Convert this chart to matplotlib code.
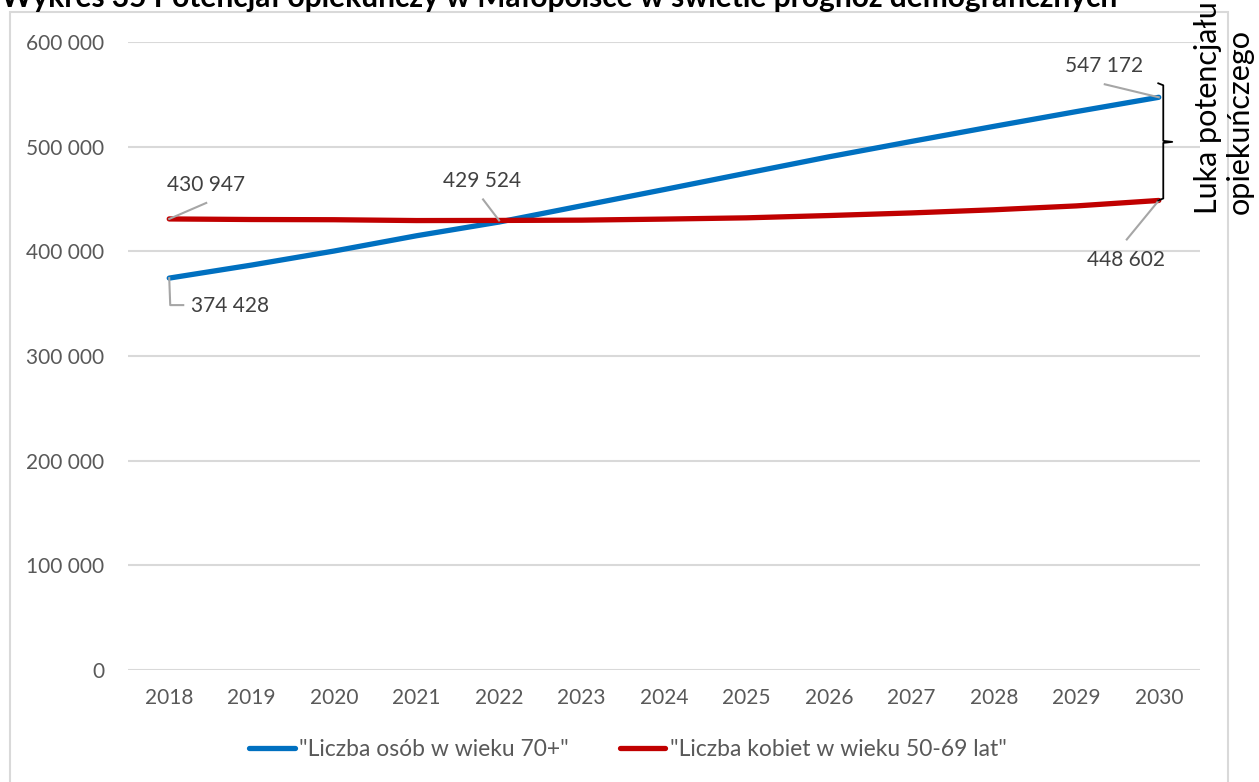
import matplotlib
matplotlib.use("Agg")
import matplotlib.pyplot as plt
from matplotlib.lines import Line2D
from matplotlib.patches import Rectangle
from matplotlib.ticker import FuncFormatter

plt.rcParams['font.family'] = ['Lato', 'DejaVu Sans']

# data
years = [2018, 2019, 2020, 2021, 2022, 2023, 2024, 2025, 2026, 2027, 2028, 2029, 2030]
seniors_70 = [374428, 386900, 400300, 414900, 428000, 443500, 459000, 474700, 490300, 505000, 519400, 533500, 547172]
women_50_69 = [430947, 430400, 430200, 429400, 429524, 429800, 430800, 432000, 434200, 436700, 439700, 443400, 448602]
y_ticks = [0, 100000, 200000, 300000, 400000, 500000, 600000]

title = "Wykres 35 Potencjał opiekuńczy w Małopolsce w świetle prognoz demograficznych"
legend_labels = ['"Liczba osób w wieku 70+"', '"Liczba kobiet w wieku 50-69 lat"']
gap_label = "Luka potencjału\nopiekuńczego"

BLUE = "#0070C0"
RED = "#C00000"
GRID = "#D9D9D9"
TICK = "#595959"
LABEL = "#404040"

W, H = 1259, 782
fig = plt.figure(figsize=(W / 100, H / 100), dpi=100)

# outer chart frame (bottom runs off the image)
fig.patches.append(Rectangle((10 / W, -0.05), 1218 / W, 1.05 - 12 / H,
                             transform=fig.transFigure, fill=False,
                             edgecolor=GRID, linewidth=1.5))

ax = fig.add_axes([128 / W, 1 - 670 / H, 1072 / W, 628 / H])
ax.set_xlim(2017.5, 2030.5)
ax.set_ylim(0, 600000)
ax.set_xticks(years)
ax.set_yticks(y_ticks)
ax.yaxis.set_major_formatter(FuncFormatter(lambda v, p: f"{int(v):,}".replace(",", " ")))
ax.grid(axis='y', color=GRID, linewidth=1.5)
ax.set_axisbelow(True)
for s in ax.spines.values():
    s.set_visible(False)
ax.tick_params(length=0, labelsize=15, labelcolor=TICK)
ax.tick_params(axis='y', pad=17)
ax.tick_params(axis='x', pad=13)

ax.plot(years, seniors_70, color=BLUE, linewidth=3.8, solid_capstyle='round', label=legend_labels[0])
ax.plot(years, women_50_69, color=RED, linewidth=3.8, solid_capstyle='round', label=legend_labels[1])

# title is partly cut by the top edge, as in the source image
fig.text(0.001, 1 - 7 / H, title, fontsize=21.5, fontweight='bold', color='black',
         ha='left', va='baseline')

fig.canvas.draw()


def px(x, y):
    return ax.transData.transform((x, y))


def to_fig(pts):
    return [p[0] / W for p in pts], [p[1] / H for p in pts]


def data_label(x, y, text, text_off, leader):
    p = px(x, y)
    pts = [(p[0] + dx, p[1] + dy) for dx, dy in leader]
    xs, ys = to_fig(pts)
    fig.lines.append(Line2D(xs, ys, transform=fig.transFigure, color="#A6A6A6", linewidth=1.5))
    fig.text((p[0] + text_off[0]) / W, (p[1] + text_off[1]) / H, text,
             fontsize=15, color=LABEL, ha='center', va='center')


def fmt(v):
    return f"{v:,}".replace(",", " ")


data_label(years[0], women_50_69[0], fmt(women_50_69[0]), (37, 34), [(0, 0), (37, 16)])
data_label(years[0], seniors_70[0], fmt(seniors_70[0]), (61, -28), [(0, 0), (1, -27), (14, -27)])
data_label(years[4], women_50_69[4], fmt(women_50_69[4]), (-17, 39), [(0, 0), (-16, 21)])
data_label(years[-1], seniors_70[-1], fmt(seniors_70[-1]), (-55, 31), [(0, 0), (-54, 13)])
data_label(years[-1], women_50_69[-1], fmt(women_50_69[-1]), (-33, -60), [(0, 0), (-32, -39)])

# curly bracket marking the gap in 2030
top = px(years[-1], seniors_70[-1])
bot = px(years[-1], women_50_69[-1])
bx = top[0] + 4.5
ytop = top[1] + 14
ybot = bot[1]
ymid = (ytop + ybot) / 2
bracket = [(bx - 5, ytop), (bx, ytop - 2), (bx, ymid + 1), (bx + 9, ymid),
           (bx, ymid - 1), (bx, ybot + 2), (bx - 5, ybot)]
xs, ys = to_fig(bracket)
fig.lines.append(Line2D(xs, ys, transform=fig.transFigure, color="black", linewidth=1.3))

fig.text(1224 / W, 1 - 214 / H, gap_label, rotation=90, fontsize=22, color="black",
         ha='center', va='bottom', multialignment='left', linespacing=1.15)

fig.legend(loc='center', bbox_to_anchor=(628 / W, 1 - 750 / H), ncol=2, frameon=False,
           fontsize=16.5, handlelength=2.0, handletextpad=0.2, columnspacing=2.2,
           labelcolor=TICK)

fig.savefig("out.png", dpi=100)
